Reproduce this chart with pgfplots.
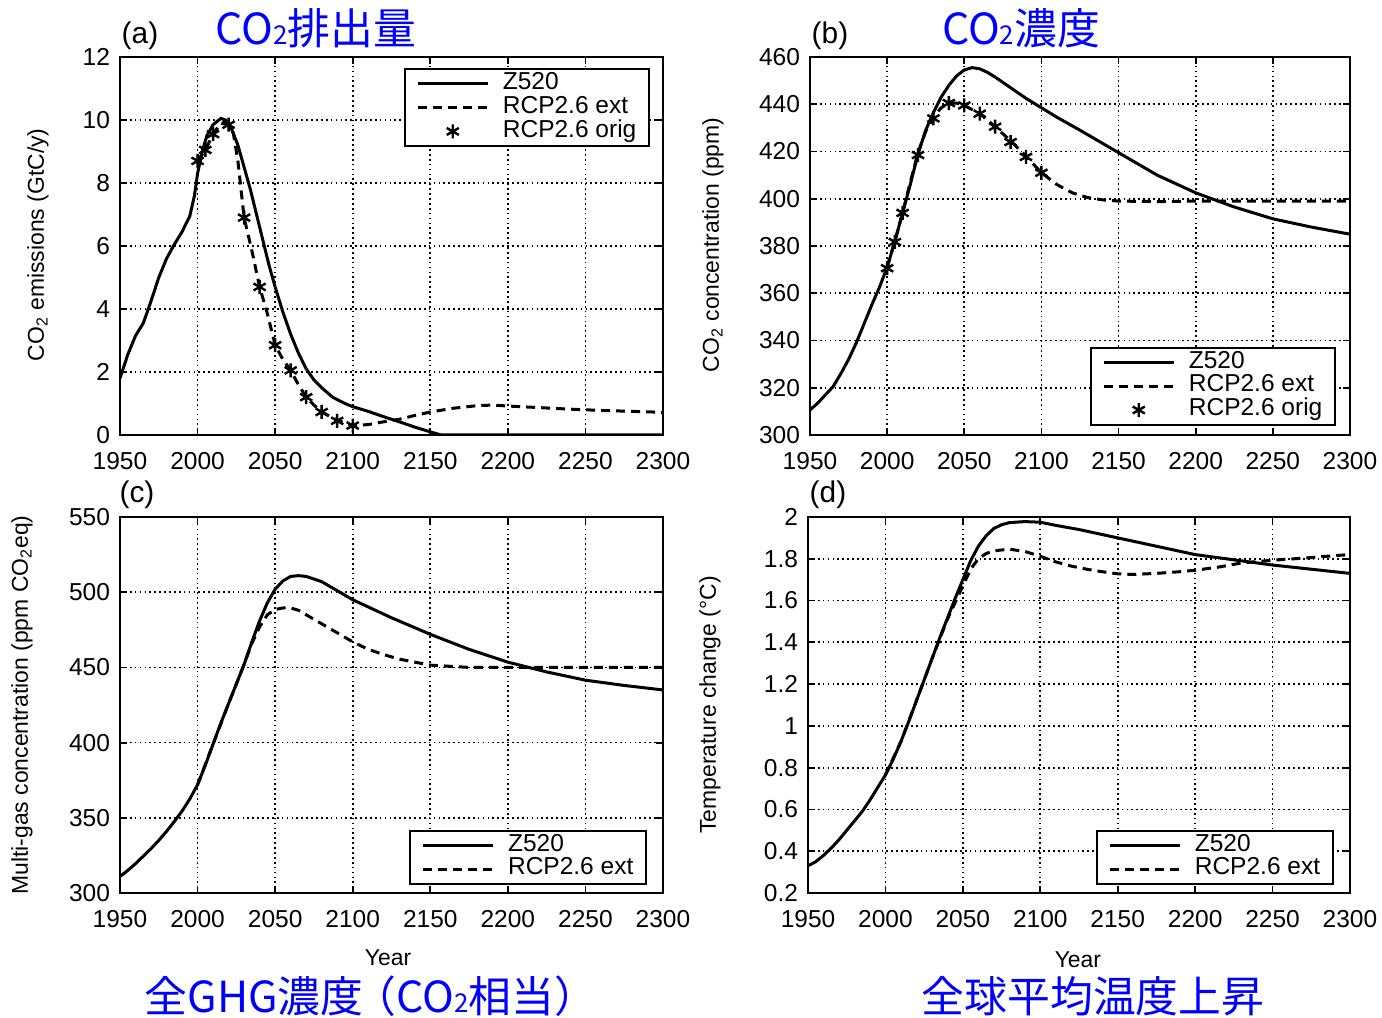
\documentclass[border=0pt]{standalone}
\usepackage{fontspec}
\setmainfont{Liberation Sans}
\newfontfamily\jp{Noto Sans CJK JP}
\usepackage{pgfplots}
\pgfplotsset{compat=1.18}
\definecolor{ttlblue}{RGB}{0,0,255}
\pgfplotsset{
  panel/.style={
    scale only axis,
    xmin=1950, xmax=2300,
    xtick={1950,2000,...,2300},
    tick pos=both, tick align=inside,
    major tick length=3.5bp,
    every tick/.style={black, line width=0.9bp},
    axis line style={line width=1bp},
    grid=major,
    major grid style={black, line width=0.85bp, dash pattern=on 0.85bp off 1.6bp},
    /pgf/number format/assume math mode=true,
    /pgf/number format/1000 sep={},
    tick label style={font=\fontsize{12.3}{14}\selectfont},
    x tick label style={yshift=-5bp},
    y tick label style={xshift=-1.5bp},
    label style={font=\fontsize{11.5}{13}\selectfont},
    legend cell align=left,
    legend style={draw=black, line width=1bp, fill=white,
      font=\fontsize{12.3}{13}\selectfont, inner xsep=5.5bp, inner ysep=1.5bp,
      nodes={inner sep=0.8bp, text height=8bp, text depth=2.3bp},
      column sep=6bp},
    legend image code/.code={\draw[#1] (0bp,0bp) -- (35bp,0bp);},
  },
  zline/.style={black, line width=1.5bp, solid},
  rline/.style={black, line width=1.5bp, dash pattern=on 4.5bp off 3bp},
  rstar/.style={black, only marks, mark=asterisk, mark size=3.5bp,
    mark options={solid, line width=1.2bp},
    legend image code/.code={\draw[mark repeat=2,mark phase=2,##1] plot coordinates {(0bp,0bp)(17.5bp,0bp)(35bp,0bp)};}},
}
\begin{document}
\begin{tikzpicture}
\path[use as bounding box] (0,0) rectangle (691bp,509bp);

% (a)
\begin{axis}[panel, at={(60bp,291.5bp)}, anchor=south west,
  width=271.5bp, height=189bp,
  ymin=0, ymax=12, ytick={0,2,...,12},
  ylabel={CO\textsubscript{2} emissions (GtC/y)},
  ylabel style={at={(axis description cs:-0.151,0.503)}, anchor=center},
  legend style={at={(0.976,0.971)}, anchor=north east}]
\addplot[zline] coordinates {
(1950,1.8)(1955,2.55)(1960,3.15)(1965,3.55)(1970,4.25)(1975,5.0)(1980,5.6)(1985,6.05)
(1990,6.45)(1995,6.95)(1998,7.6)(2000,8.3)(2003,9.0)(2006,9.5)(2010,9.85)(2015,10.05)
(2018,10.0)(2022,9.7)(2026,9.2)(2030,8.5)(2034,7.8)(2038,7.0)(2042,6.2)(2046,5.4)
(2050,4.7)(2055,3.9)(2060,3.2)(2065,2.6)(2070,2.1)(2075,1.75)(2080,1.5)(2087,1.2)
(2095,1.0)(2100,0.9)(2110,0.75)(2120,0.58)(2130,0.42)(2140,0.25)(2150,0.1)(2157,0)(2300,0)};
\addlegendentry{Z520}
\addplot[rline] coordinates {
(2000,8.7)(2005,9.05)(2010,9.55)(2015,9.9)(2020,9.85)(2023,9.6)(2026,8.7)(2030,6.9)
(2035,5.85)(2040,4.7)(2045,3.85)(2050,2.85)(2055,2.4)(2060,2.05)(2065,1.6)(2070,1.2)
(2075,0.95)(2080,0.73)(2090,0.47)(2100,0.3)(2110,0.33)(2120,0.42)(2130,0.5)(2140,0.62)
(2150,0.73)(2165,0.85)(2180,0.93)(2190,0.95)(2200,0.92)(2220,0.87)(2240,0.82)
(2260,0.78)(2280,0.75)(2300,0.72)};
\addlegendentry{RCP2.6 ext}
\addplot[rstar] coordinates {
(2000,8.7)(2005,9.05)(2010,9.55)(2020,9.85)(2030,6.9)(2040,4.7)(2050,2.85)(2060,2.05)
(2070,1.2)(2080,0.73)(2090,0.45)(2100,0.3)};
\addlegendentry{RCP2.6 orig}
\end{axis}

% (b)
\begin{axis}[panel, at={(405bp,291.5bp)}, anchor=south west,
  width=270bp, height=189bp,
  ymin=300, ymax=460, ytick={300,320,...,460},
  ylabel={CO\textsubscript{2} concentration (ppm)},
  ylabel style={at={(axis description cs:-0.1796,0.503)}, anchor=center},
  legend style={at={(0.974,0.024)}, anchor=south east}]
\addplot[zline] coordinates {
(1950,310.6)(1955,313.5)(1960,317)(1965,320.5)(1970,326)(1975,332)(1980,339)(1985,347)
(1990,355)(1995,362.5)(2000,371)(2005,382)(2010,394)(2015,406)(2020,419)(2025,429)
(2030,436.5)(2035,443)(2040,448)(2045,452)(2050,454.5)(2055,455.5)(2060,455)(2065,453.5)
(2070,451.5)(2080,447)(2090,442.5)(2100,438.5)(2110,434.5)(2125,429)(2150,419.5)
(2175,410)(2200,402.5)(2225,396.5)(2250,391.5)(2275,388)(2300,385)};
\addlegendentry{Z520}
\addplot[rline] coordinates {
(2000,371)(2005,382)(2010,394)(2015,407)(2020,419.5)(2025,428.5)(2030,434.5)(2035,438.5)
(2040,440.5)(2045,440.5)(2050,439.5)(2060,436)(2070,430.5)(2080,424.5)(2090,418)
(2100,411)(2110,406)(2120,402.5)(2130,400.5)(2140,399.5)(2150,399)(2175,398.8)
(2200,399)(2250,399)(2300,399)};
\addlegendentry{RCP2.6 ext}
\addplot[rstar] coordinates {
(2000,370.6)(2005,381.7)(2010,394)(2020,418.5)(2030,434)(2040,440.5)(2050,439.5)
(2060,436)(2070,430.5)(2080,424)(2090,417.7)(2100,411)};
\addlegendentry{RCP2.6 orig}
\end{axis}

% (c)
\begin{axis}[panel, at={(60bp,62.5bp)}, anchor=south west,
  width=271.5bp, height=188bp,
  ymin=300, ymax=550, ytick={300,350,...,550},
  xlabel={Year},
  xlabel style={at={(axis description cs:0.4936,-0.173)}, anchor=center},
  ylabel={Multi-gas concentration (ppm CO\textsubscript{2}eq)},
  ylabel style={at={(axis description cs:-0.1805,0.5)}, anchor=center},
  legend style={at={(0.9705,0.021)}, anchor=south east}]
\addplot[zline] coordinates {
(1950,311)(1955,315)(1960,319.5)(1965,324.5)(1970,329.5)(1975,335)(1980,341)(1985,347.5)
(1990,354.5)(1995,362.5)(2000,372)(2005,385)(2010,399)(2015,413)(2020,426)(2025,439)
(2030,452)(2035,467)(2040,481)(2045,493)(2050,502)(2055,507.5)(2060,510.5)(2065,511)
(2070,510.5)(2080,507)(2090,501)(2100,495)(2125,483)(2150,472)(2175,462)(2200,453.5)
(2225,447)(2250,441.5)(2275,438)(2300,435)};
\addlegendentry{Z520}
\addplot[rline] coordinates {
(2000,372)(2010,399)(2020,426)(2030,452)(2035,466)(2040,477)(2045,485)(2050,488.5)
(2055,489.5)(2060,489.5)(2065,488)(2070,485)(2080,479)(2090,473)(2100,467)(2110,462)
(2120,458.5)(2130,455.5)(2150,451.5)(2175,450)(2200,450)(2250,450)(2300,450)};
\addlegendentry{RCP2.6 ext}
\end{axis}

% (d)
\begin{axis}[panel, at={(404bp,62.5bp)}, anchor=south west,
  width=271bp, height=188bp,
  ymin=0.2, ymax=2, ytick={0.2,0.4,0.6,0.8,1,1.2,1.4,1.6,1.8,2},
  yticklabels={0.2,0.4,0.6,0.8,1,1.2,1.4,1.6,1.8,2},
  xlabel={Year},
  xlabel style={at={(axis description cs:0.498,-0.178)}, anchor=center},
  ylabel={Temperature change (°C)},
  ylabel style={at={(axis description cs:-0.1808,0.5)}, anchor=center},
  legend style={at={(0.970,0.021)}, anchor=south east}]
\addplot[zline] coordinates {
(1950,0.33)(1955,0.35)(1960,0.38)(1965,0.415)(1970,0.455)(1975,0.5)(1980,0.545)
(1985,0.59)(1990,0.645)(1995,0.705)(2000,0.765)(2005,0.84)(2010,0.925)(2015,1.02)
(2020,1.12)(2025,1.22)(2030,1.32)(2035,1.42)(2040,1.515)(2045,1.61)(2050,1.70)
(2055,1.79)(2060,1.86)(2065,1.91)(2070,1.945)(2075,1.963)(2080,1.973)(2090,1.978)
(2100,1.975)(2110,1.96)(2125,1.94)(2150,1.90)(2175,1.86)(2200,1.82)(2225,1.795)
(2250,1.77)(2275,1.75)(2300,1.73)};
\addlegendentry{Z520}
\addplot[rline] coordinates {
(2000,0.765)(2010,0.925)(2020,1.12)(2030,1.32)(2040,1.51)(2045,1.59)(2050,1.67)
(2055,1.75)(2060,1.80)(2065,1.825)(2070,1.838)(2080,1.846)(2090,1.835)(2100,1.812)
(2110,1.785)(2120,1.765)(2130,1.75)(2140,1.738)(2150,1.728)(2160,1.725)(2175,1.73)
(2190,1.738)(2200,1.745)(2215,1.76)(2230,1.78)(2250,1.793)(2270,1.803)(2290,1.815)
(2300,1.82)};
\addlegendentry{RCP2.6 ext}
\end{axis}

% panel letters
\node[font=\fontsize{15}{16}\selectfont] at (70bp,491bp) {(a)};
\node[font=\fontsize{15}{16}\selectfont] at (415bp,491bp) {(b)};
\node[font=\fontsize{15}{16}\selectfont] at (68.5bp,261.5bp) {(c)};
\node[font=\fontsize{15}{16}\selectfont] at (414bp,261.5bp) {(d)};

% blue titles
\node[text=ttlblue, font=\jp\fontsize{21.5}{24}\selectfont] at (158bp,495bp)
  {CO{\fontsize{13}{14}\selectfont 2}排出量};
\node[text=ttlblue, font=\jp\fontsize{21.5}{24}\selectfont] at (510.5bp,495bp)
  {CO{\fontsize{13}{14}\selectfont 2}濃度};
\node[text=ttlblue, font=\jp\fontsize{21.5}{24}\selectfont] at (183.5bp,11bp)
  {全GHG濃度\kern-5bp（CO{\fontsize{13}{14}\selectfont 2}相当）\kern-4bp};
\node[text=ttlblue, font=\jp\fontsize{21.5}{24}\selectfont] at (546.5bp,11bp)
  {全球平均温度上昇};
\end{tikzpicture}
\end{document}
